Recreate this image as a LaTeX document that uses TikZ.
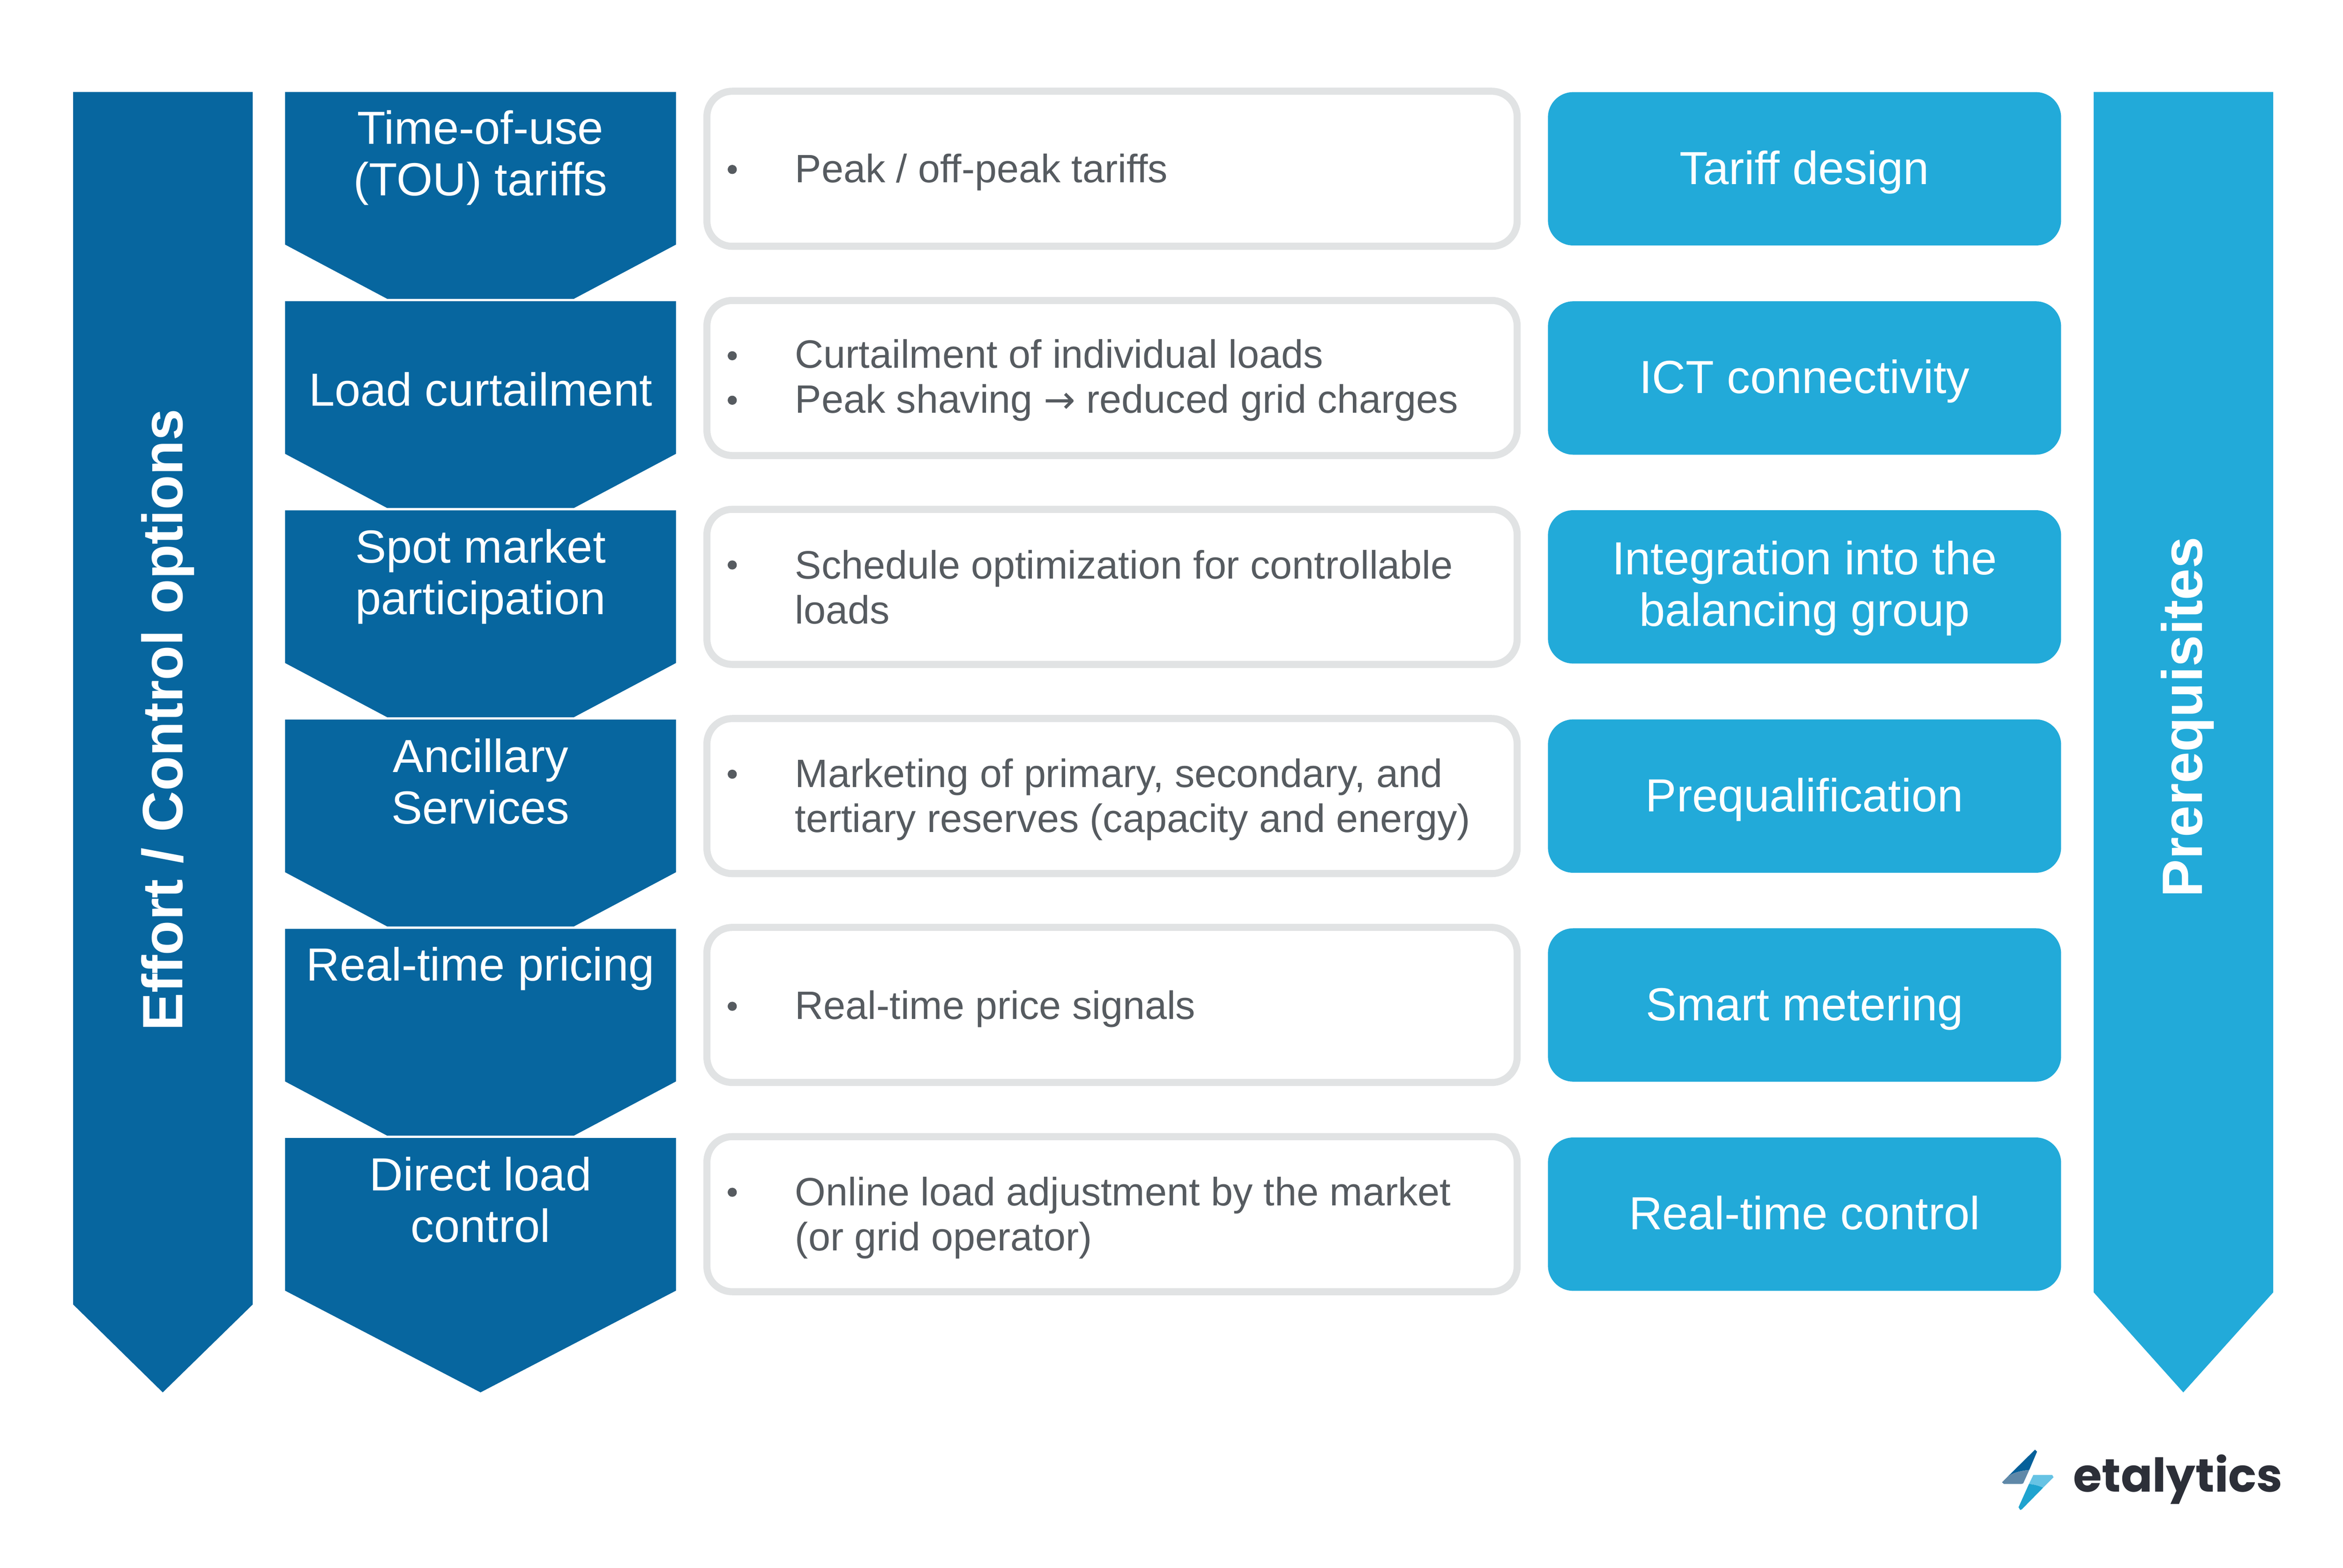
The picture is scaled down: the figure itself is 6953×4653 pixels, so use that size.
\documentclass[tikz,border=0pt]{standalone}
\usepackage{fontspec}
\setmainfont{Liberation Sans}
\newfontfamily\logofont{Poppins}
\newfontfamily\arrowfont{DejaVu Sans}
\definecolor{optblue}{HTML}{07669F}
\definecolor{preblue}{HTML}{22AAD9}
\definecolor{cardline}{HTML}{E1E3E4}
\definecolor{cardtext}{HTML}{565B60}
\definecolor{logotext}{HTML}{2C2F38}
\definecolor{logodark}{HTML}{05609A}
\definecolor{logogrey}{HTML}{5F88A8}
\definecolor{logosky}{HTML}{66C3E4}
\definecolor{logoteal}{HTML}{1FA3CF}
\begin{document}
\begin{tikzpicture}[
    x=0.01cm, y=-0.01cm,
    optlabel/.style={text=white, align=center, font=\fontsize{39.2}{43.5}\selectfont, inner sep=0pt},
    sidelabel/.style={text=white, rotate=90, font=\fontsize{48}{54}\selectfont\bfseries, inner sep=0pt},
    cardbox/.style={rectangle, draw=cardline, fill=white, line width=0.21cm, rounded corners=0.75cm, minimum width=24.03cm, minimum height=4.6cm, inner sep=0pt},
    cardtxt/.style={text=cardtext, anchor=west, align=left, font=\fontsize{33.4}{37.8}\selectfont, inner sep=0pt},
    bulletdot/.style={circle, fill=cardtext, minimum size=0.27cm, inner sep=0pt},
    prebox/.style={rectangle, fill=preblue, text=white, align=center, rounded corners=0.75cm, minimum width=15.22cm, minimum height=4.55cm, inner sep=0pt, font=\fontsize{39.2}{43.5}\selectfont},
    oneline/.style={text height=30pt, text depth=4pt}]

    \useasboundingbox (0,0) rectangle (6953,4653);

    % side arrows
    \fill[optblue] (217,273) -- (750,273) -- (750,3872) -- (483,4133) -- (217,3872) -- cycle;
    \fill[preblue] (6213,273) -- (6746,273) -- (6746,3836) -- (6479,4133) -- (6213,3836) -- cycle;
    \node[sidelabel] (effort) at (498,2137) {Effort / Control options};
    \node[sidelabel] (prereq) at (6491,2129) {Prerequisites};

    % option chevrons
    \fill[optblue] (846,273)  -- (2006,273)  -- (2006,726)  -- (1703,887)  -- (1149,887)  -- (846,726)  -- cycle;
    \fill[optblue] (846,894)  -- (2006,894)  -- (2006,1347) -- (1703,1508) -- (1149,1508) -- (846,1347) -- cycle;
    \fill[optblue] (846,1515) -- (2006,1515) -- (2006,1968) -- (1703,2129) -- (1149,2129) -- (846,1968) -- cycle;
    \fill[optblue] (846,2136) -- (2006,2136) -- (2006,2589) -- (1703,2750) -- (1149,2750) -- (846,2589) -- cycle;
    \fill[optblue] (846,2757) -- (2006,2757) -- (2006,3210) -- (1703,3371) -- (1149,3371) -- (846,3210) -- cycle;
    \fill[optblue] (846,3378) -- (2006,3378) -- (2006,3831) -- (1426,4133) -- (846,3831) -- cycle;

    \node[optlabel] (opt1) at (1426,469)  {Time-of-use\\(TOU) tariffs};
    \node[optlabel] (opt2) at (1426,1155) {Load curtailment};
    \node[optlabel] (opt3) at (1426,1711) {Spot market\\participation};
    \node[optlabel] (opt4) at (1426,2320) {Ancillary\\Services};
    \node[optlabel] (opt5) at (1426,2876) {Real-time pricing};
    \node[optlabel] (opt6) at (1426,3562) {Direct load\\control};

    % cards
    \node[cardbox] (card1) at (3300,501)  {};
    \node[cardbox] (card2) at (3300,1122) {};
    \node[cardbox] (card3) at (3300,1742) {};
    \node[cardbox] (card4) at (3300,2363) {};
    \node[cardbox] (card5) at (3300,2983) {};
    \node[cardbox] (card6) at (3300,3604) {};

    \node[bulletdot] (dot1)  at (2173,503)  {};
    \node[bulletdot] (dot2a) at (2173,1056) {};
    \node[bulletdot] (dot2b) at (2173,1188) {};
    \node[bulletdot] (dot3)  at (2173,1677) {};
    \node[bulletdot] (dot4)  at (2173,2298) {};
    \node[bulletdot] (dot5)  at (2173,2987) {};
    \node[bulletdot] (dot6)  at (2173,3539) {};

    \node[cardtxt] (txt1) at (2359,511)  {Peak / off-peak tariffs};
    \node[cardtxt] (txt2) at (2359,1129) {Curtailment of individual loads\\Peak shaving {\arrowfont\fontsize{32}{37.8}\selectfont →} reduced grid charges};
    \node[cardtxt] (txt3) at (2359,1743) {Schedule optimization for controllable\\loads};
    \node[cardtxt] (txt4) at (2359,2373) {Marketing of primary, secondary, and\\tertiary reserves (capacity and energy)};
    \node[cardtxt] (txt5) at (2359,2995) {Real-time price signals};
    \node[cardtxt] (txt6) at (2359,3615) {Online load adjustment by the market\\(or grid operator)};

    % prerequisites
    \node[prebox,oneline]      (pre1) at (5355,501)  {Tariff design};
    \node[prebox,oneline]      (pre2) at (5355,1122) {ICT connectivity};
    \node[prebox,text depth=6pt] (pre3) at (5355,1742) {Integration into the\\balancing group};
    \node[prebox,oneline]      (pre4) at (5355,2363) {Prequalification};
    \node[prebox,oneline]      (pre5) at (5355,2983) {Smart metering};
    \node[prebox,oneline]      (pre6) at (5355,3604) {Real-time control};

    % logo
    \fill[logodark] (6039,4303) -- (6045,4309) -- (6022,4363) .. controls (5995,4366) and (5972,4372) .. (5958,4383) -- cycle;
    \fill[logogrey] (6022,4363) .. controls (5995,4366) and (5972,4372) .. (5958,4383) -- (5941,4400) -- (5947,4405) -- (5998,4405) -- (6004,4403) -- cycle;
    \fill[logosky] (6034,4378) -- (6090,4378) -- (6094,4385) -- (6063,4416) .. controls (6050,4410) and (6036,4406) .. (6021,4405) -- cycle;
    \fill[logoteal] (6021,4405) .. controls (6036,4406) and (6050,4410) .. (6063,4416) -- (6000,4480) -- (5995,4482) -- (5990,4474) -- cycle;
    \node[text=logotext, font=\logofont\bfseries\fontsize{39.3}{46}\selectfont, anchor=west, inner sep=0pt] (logo) at (6152,4391) {etalytics};
\end{tikzpicture}
\end{document}
